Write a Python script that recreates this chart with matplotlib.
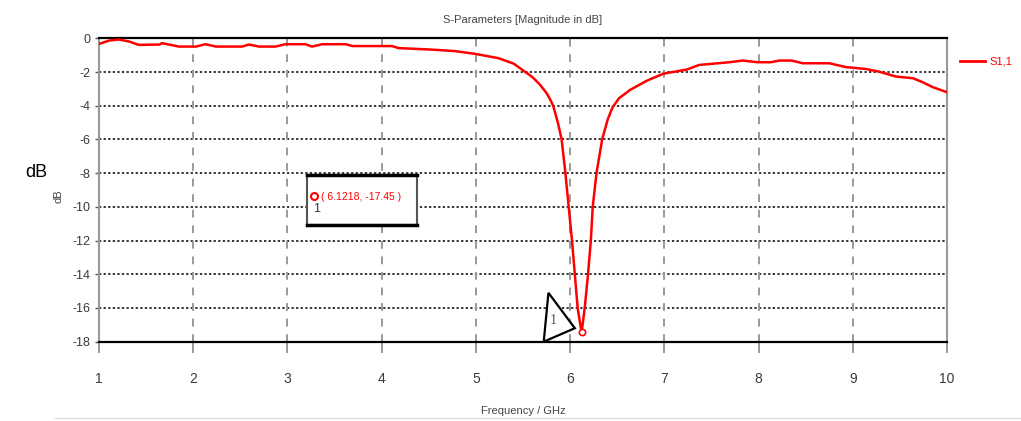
import matplotlib.pyplot as plt
from matplotlib.lines import Line2D
from matplotlib.patches import Rectangle, Polygon

plt.rcParams['font.family'] = ['Liberation Sans', 'DejaVu Sans']

# S1,1 (GHz, dB)
freq = [1.00, 1.11, 1.21, 1.32, 1.42, 1.64, 1.67, 1.85, 2.03, 2.13, 2.24, 2.52,
        2.59, 2.70, 2.87, 2.98, 3.19, 3.26, 3.37, 3.62, 3.69, 4.11, 4.18, 4.53,
        4.78, 4.99, 5.24, 5.40, 5.50, 5.60, 5.68, 5.75, 5.79, 5.82, 5.87, 5.91,
        5.95, 5.985, 6.02, 6.05, 6.08, 6.1218, 6.155, 6.19, 6.22, 6.24, 6.28,
        6.34, 6.40, 6.45, 6.52, 6.64, 6.82, 6.99, 7.24, 7.37, 7.69, 7.83, 7.99,
        8.13, 8.22, 8.35, 8.47, 8.75, 8.93, 9.14, 9.28, 9.46, 9.64, 9.74, 9.85,
        10.0]
s11 = [-0.33, -0.13, -0.07, -0.19, -0.39, -0.37, -0.29, -0.49, -0.49, -0.35,
       -0.49, -0.49, -0.37, -0.49, -0.49, -0.35, -0.35, -0.49, -0.35, -0.35,
       -0.46, -0.46, -0.58, -0.67, -0.76, -0.92, -1.18, -1.5, -1.9, -2.3,
       -2.75, -3.25, -3.65, -4.0, -5.0, -6.0, -8.0, -10.0, -12.0, -14.0,
       -16.0, -17.45, -16.0, -14.0, -12.0, -10.0, -8.0, -6.0, -4.8, -4.1,
       -3.55, -3.05, -2.5, -2.1, -1.85, -1.58, -1.42, -1.32, -1.42, -1.42,
       -1.32, -1.32, -1.48, -1.48, -1.71, -1.82, -1.98, -2.27, -2.37, -2.6,
       -2.9, -3.2]

marker_x, marker_y = 6.1218, -17.45
xticks = list(range(1, 11))
yticks = list(range(0, -19, -2))

fig = plt.figure(figsize=(10.21, 4.21), dpi=100)
ax = fig.add_axes([0.097, 0.1884, 0.8305, 0.7206])

ax.plot(freq, s11, color='#ff0000', lw=1.8, solid_joinstyle='round', zorder=3)
ax.plot(marker_x, marker_y, 'o', ms=4.5, mfc='white', mec='#ff0000', mew=1.2, zorder=4)

ax.set_xlim(1, 10)
ax.set_ylim(-18, 0)
ax.set_xticks(xticks)
ax.set_yticks(yticks)
ax.set_yticklabels([str(v) for v in yticks])

for v in yticks[1:-1]:
    ax.axhline(v, color='black', ls=(0, (1.5, 1.5)), lw=1.1, zorder=1)
for v in xticks[1:-1]:
    ax.axvline(v, color='#999999', ls=(0, (4, 4)), lw=1.4, zorder=1)

for side in ['top', 'bottom']:
    ax.spines[side].set_color('black')
    ax.spines[side].set_linewidth(1.6)
for side in ['left', 'right']:
    ax.spines[side].set_color('#999999')
    ax.spines[side].set_linewidth(1.5)

ax.tick_params(axis='x', length=8, width=1.4, color='#999999', pad=14,
               labelsize=10, labelcolor='#3a3a3a')
ax.tick_params(axis='y', length=3, width=1.0, color='#555555', pad=3,
               labelsize=9, labelcolor='#3a3a3a')

ax.set_title('S-Parameters [Magnitude in dB]', fontsize=8, color='#444444', pad=11)
ax.set_xlabel('Frequency / GHz', fontsize=8, color='#444444', labelpad=14)
ax.set_ylabel('dB', fontsize=8, color='#444444')
ax.yaxis.set_label_coords(-0.042, 0.48)

# marker info box
box = Rectangle((3.21, -11.1), 1.16, 2.98, facecolor='white', edgecolor='#555555',
                lw=1.5, zorder=5)
ax.add_patch(box)
ax.plot([3.21, 4.37], [-8.12, -8.12], color='black', lw=2.5, zorder=6)
ax.plot([3.21, 4.37], [-11.1, -11.1], color='black', lw=2.5, zorder=6)
ax.plot(3.28, -9.35, 'o', ms=5, mfc='white', mec='#ff0000', mew=1.5, zorder=7)
ax.text(3.36, -9.4, '( 6.1218, -17.45 )', color='#ff0000', fontsize=7.5,
        va='center', ha='left', zorder=7)
ax.text(3.31, -10.1, '1', color='#333333', fontsize=9, va='center', ha='center', zorder=7)

# triangle marker label
tri = Polygon([[5.77, -15.1], [6.05, -17.2], [5.72, -18.0]], closed=True,
              facecolor='white', edgecolor='black', lw=1.6, zorder=5)
ax.add_patch(tri)
ax.text(5.82, -16.75, '1', color='#555555', fontsize=10, va='center', ha='center',
        family=['Liberation Serif', 'DejaVu Serif'], zorder=6)

# legend outside the axes
fig.add_artist(Line2D([0.940, 0.965], [0.855, 0.855], color='#ff0000', lw=2))
fig.text(0.969, 0.855, 'S1,1', color='#ff0000', fontsize=8, va='center', ha='left')

fig.text(0.025, 0.59, 'dB', fontsize=13, color='black', va='center', ha='left')
fig.add_artist(Line2D([0.054, 1.0], [0.006, 0.006], color='#dddddd', lw=1))

fig.savefig('out.png', dpi=100)
